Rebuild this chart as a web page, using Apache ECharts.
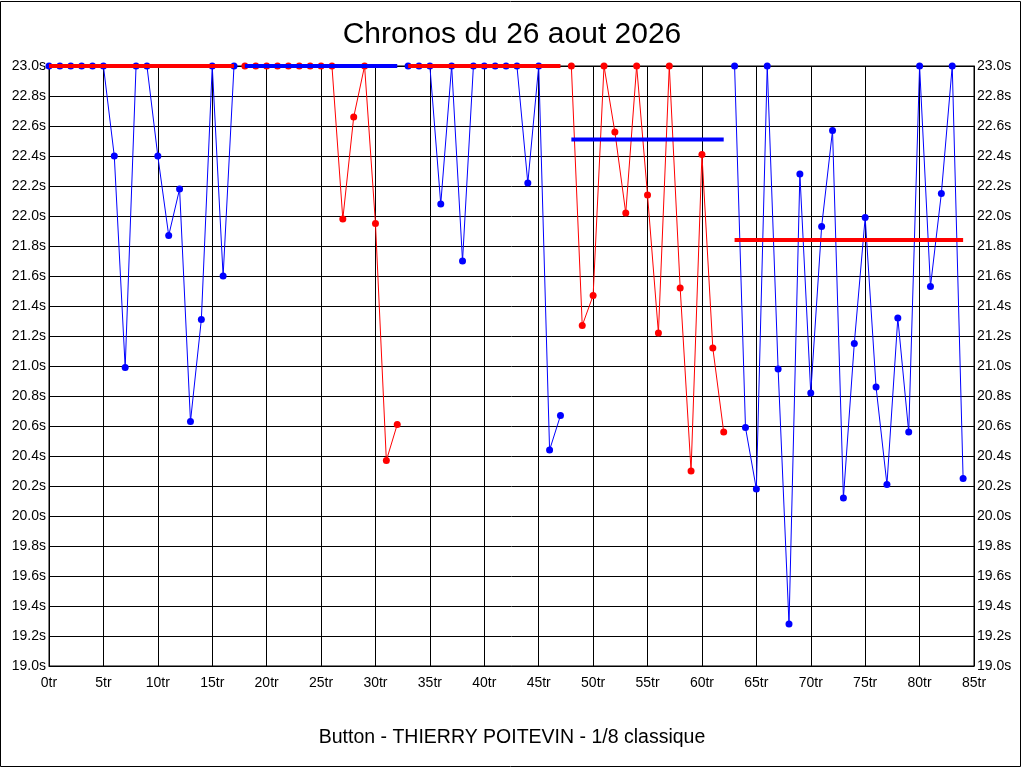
<!DOCTYPE html>
<html>
<head>
<meta charset="utf-8">
<script src="https://cdn.jsdelivr.net/npm/echarts@6/dist/echarts.min.js"></script>
<style>
html,body{margin:0;padding:0;background:#fff;}
#chart{width:1024px;height:768px;}
</style>
</head>
<body>
<div id="chart"></div>
<script>
// Lap times (seconds), one per lap index 0..84 (values at 23.0 are clipped at the top)
const times = [
  23.0, 23.0, 23.0, 23.0, 23.0, 23.0, 22.40, 20.99, 23.0, 23.0,
  22.40, 21.87, 22.18, 20.63, 21.31, 23.0, 21.60, 23.0, 23.0, 23.0,
  23.0, 23.0, 23.0, 23.0, 23.0, 23.0, 23.0, 21.98, 22.66, 23.0,
  21.95, 20.37, 20.61, 23.0, 23.0, 23.0, 22.08, 23.0, 21.70, 23.0,
  23.0, 23.0, 23.0, 23.0, 22.22, 23.0, 20.44, 20.67, 23.0, 21.27,
  21.47, 23.0, 22.56, 22.02, 23.0, 22.14, 21.22, 23.0, 21.52, 20.30,
  22.41, 21.12, 20.56, 23.0, 20.59, 20.18, 23.0, 20.98, 19.28, 22.28,
  20.82, 21.93, 22.57, 20.12, 21.15, 21.99, 20.86, 20.21, 21.32, 20.56,
  23.0, 21.53, 22.15, 23.0, 20.25
];
// Segments (relays)
const segStart = [0, 18, 33, 48, 63];
const segEnd   = [17, 32, 47, 62, 84];
const segColor = ['#0000FF', '#FF0000', '#0000FF', '#FF0000', '#0000FF'];
// Average line per segment (clipped at 23.0)
const segAvg   = [23.0, 23.0, 23.0, 22.51, 21.84];
const avgColor = ['#FF0000', '#0000FF', '#FF0000', '#0000FF', '#FF0000'];

const xTickMin = 0, xTickMax = 85, xTickStep = 5;
const yTickMin = 19.0, yTickMax = 23.0, yTickStep = 0.2;

const FONT = '"Liberation Sans", Arial, sans-serif';

const series = [];
segStart.forEach((s, i) => {
  const data = [];
  for (let k = s; k <= segEnd[i]; k++) data.push([k, times[k]]);
  series.push({
    type: 'line', data: data, symbol: 'circle', symbolSize: 7,
    lineStyle: {color: segColor[i], width: 1},
    itemStyle: {color: segColor[i]},
    animation: false, z: 2
  });
});
segStart.forEach((s, i) => {
  series.push({
    type: 'line', data: [[s, segAvg[i]], [segEnd[i], segAvg[i]]],
    symbol: 'none', lineStyle: {color: avgColor[i], width: 4},
    animation: false, z: 3
  });
});

const yAxisBase = {
  type: 'value', min: yTickMin, max: yTickMax, interval: yTickStep,
  axisLine: {show: true, lineStyle: {color: '#000', width: 1}},
  axisTick: {show: false},
  axisLabel: {color: '#000', fontSize: 14, fontFamily: FONT, margin: 3,
    formatter: v => v.toFixed(1) + 's'}
};

const chart = echarts.init(document.getElementById('chart'), null, {renderer: 'canvas'});
chart.setOption({
  backgroundColor: '#fff',
  animation: false,
  title: [
    {text: 'Chronos du 26 aout 2026', left: 'center', top: 15,
      textStyle: {fontSize: 30, fontWeight: 'normal', color: '#000', fontFamily: FONT}},
    {text: 'Button - THIERRY POITEVIN - 1/8 classique', left: 'center', top: 723,
      textStyle: {fontSize: 19.5, fontWeight: 'normal', color: '#000', fontFamily: FONT}}
  ],
  graphic: [{type: 'rect', shape: {x: 0.5, y: 1.5, width: 1020, height: 765},
    style: {fill: 'none', stroke: '#000', lineWidth: 1}, silent: true}],
  grid: {left: 49, right: 50, top: 66, bottom: 102, show: true, borderColor: '#000', borderWidth: 1},
  xAxis: {
    type: 'value', min: xTickMin, max: xTickMax, interval: xTickStep,
    axisLine: {show: true, lineStyle: {color: '#000'}},
    axisTick: {show: false},
    splitLine: {show: true, lineStyle: {color: '#000', width: 1}},
    axisLabel: {color: '#000', fontSize: 14, fontFamily: FONT, margin: 10,
      formatter: v => v + 'tr'}
  },
  yAxis: [
    Object.assign({}, yAxisBase, {position: 'left', splitLine: {show: true, lineStyle: {color: '#000', width: 1}}}),
    Object.assign({}, yAxisBase, {position: 'right', splitLine: {show: false}})
  ],
  series: series
});
</script>
</body>
</html>
